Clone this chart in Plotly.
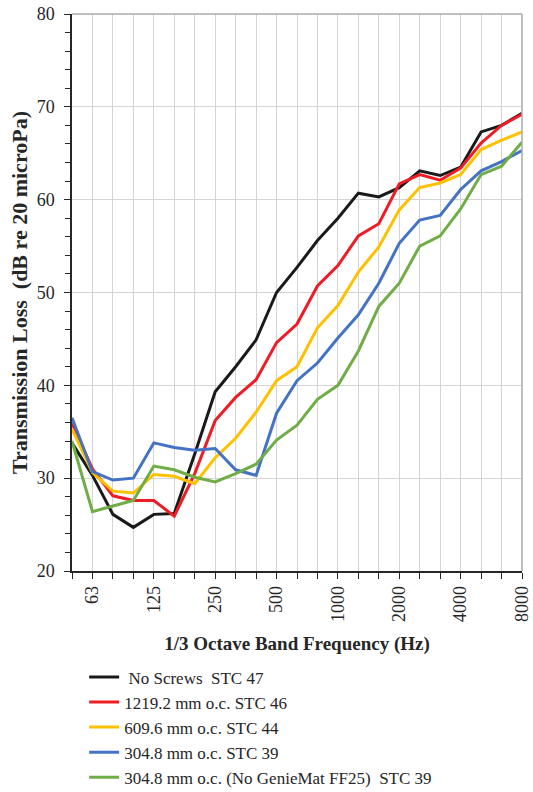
import plotly.graph_objects as go

bands = ["50", "63", "80", "100", "125", "160", "200", "250", "315", "400", "500", "630",
         "800", "1000", "1250", "1600", "2000", "2500", "3150", "4000", "5000", "6300", "8000"]
labeled = ["63", "125", "250", "500", "1000", "2000", "4000", "8000"]

no_screws = [33.8, 30.3, 26.1, 24.7, 26.1, 26.2, 32.6, 39.3, 42.0, 44.9, 50.0, 52.7,
             55.6, 58.0, 60.7, 60.3, 61.3, 63.1, 62.6, 63.5, 67.3, 68.0, 69.3]
oc1219 = [35.9, 31.0, 28.1, 27.6, 27.6, 25.9, 30.5, 36.2, 38.7, 40.6, 44.6, 46.6,
          50.7, 52.9, 56.1, 57.4, 61.7, 62.7, 62.1, 63.4, 66.1, 68.0, 69.2]
oc609 = [35.3, 30.6, 28.6, 28.4, 30.4, 30.2, 29.4, 32.2, 34.3, 37.1, 40.5, 42.0,
         46.2, 48.6, 52.2, 54.9, 58.9, 61.3, 61.8, 62.7, 65.4, 66.4, 67.3]
oc304 = [36.5, 30.7, 29.8, 30.0, 33.8, 33.3, 33.0, 33.2, 30.9, 30.3, 37.0, 40.5,
         42.4, 45.1, 47.6, 51.0, 55.3, 57.8, 58.3, 61.1, 63.1, 64.1, 65.3]
oc304_nogm = [34.0, 26.4, 27.0, 27.6, 31.3, 30.9, 30.1, 29.6, 30.5, 31.5, 34.1, 35.7,
              38.5, 40.0, 43.7, 48.5, 51.0, 55.0, 56.1, 59.0, 62.7, 63.6, 66.2]

series = [
    ("\u00a0No Screws  STC 47", no_screws, "#1a1a1a"),
    ("1219.2 mm o.c. STC 46", oc1219, "#ee1c24"),
    ("609.6 mm o.c. STC 44", oc609, "#ffc000"),
    ("304.8 mm o.c. STC 39", oc304, "#4472c4"),
    ("304.8 mm o.c. (No GenieMat FF25)  STC 39", oc304_nogm, "#70ad47"),
]

xi = list(range(len(bands)))
fig = go.Figure()
for name, vals, col in series:
    fig.add_trace(go.Scatter(x=xi, y=vals, mode="lines", name=name,
                             line=dict(color=col, width=3)))

font_fam = "Liberation Serif, Times New Roman, serif"
txt = "#262626"
fig.update_layout(
    width=533, height=792,
    margin=dict(l=72, r=11, t=14, b=221, autoexpand=False),
    paper_bgcolor="white", plot_bgcolor="white",
    font=dict(family=font_fam, size=18, color=txt),
    showlegend=True,
    legend=dict(x=0.027, y=0.1675, xanchor="left", yanchor="top", yref="container",
                font=dict(size=17, color=txt), itemwidth=30,
                tracegroupgap=0, bgcolor="rgba(0,0,0,0)"),
)
fig.update_xaxes(
    range=[0, len(bands) - 1],
    tickmode="array", tickvals=xi,
    ticktext=[b if b in labeled else "" for b in bands],
    tickangle=-90, ticks="outside", ticklen=6, tickcolor=txt,
    showline=True, linecolor=txt, linewidth=1.5,
    showgrid=True, gridcolor="#d4d4d4", gridwidth=1,
    zeroline=False, tickfont=dict(size=18),
    title=dict(text="<b>1/3 Octave Band Frequency (Hz)</b>", standoff=16,
               font=dict(size=19, color=txt)),
)
fig.update_yaxes(
    range=[20, 80], dtick=10, tick0=20,
    ticks="outside", ticklen=6, tickcolor=txt, ticklabelstandoff=6,
    minor=dict(dtick=2, ticks="outside", ticklen=5, tickcolor=txt, showgrid=False),
    showline=True, linecolor=txt, linewidth=1.5,
    showgrid=True, gridcolor="#d4d4d4", gridwidth=1,
    zeroline=False, tickfont=dict(size=18),
    title=dict(text="<b>Transmission Loss  (dB re 20 microPa)</b>", standoff=3,
               font=dict(size=22, color=txt)),
)
fig.add_shape(type="line", xref="paper", yref="paper", x0=0, x1=1, y0=1, y1=1,
              line=dict(color="#aaaaaa", width=1.5))
fig.add_shape(type="line", xref="paper", yref="paper", x0=1, x1=1, y0=0, y1=1,
              line=dict(color="#aaaaaa", width=1.5))
fig.write_html("out.html",
               config={"displayModeBar": False},
               post_script="document.body.style.margin='0';"
                           "document.body.style.overflow='hidden';")
